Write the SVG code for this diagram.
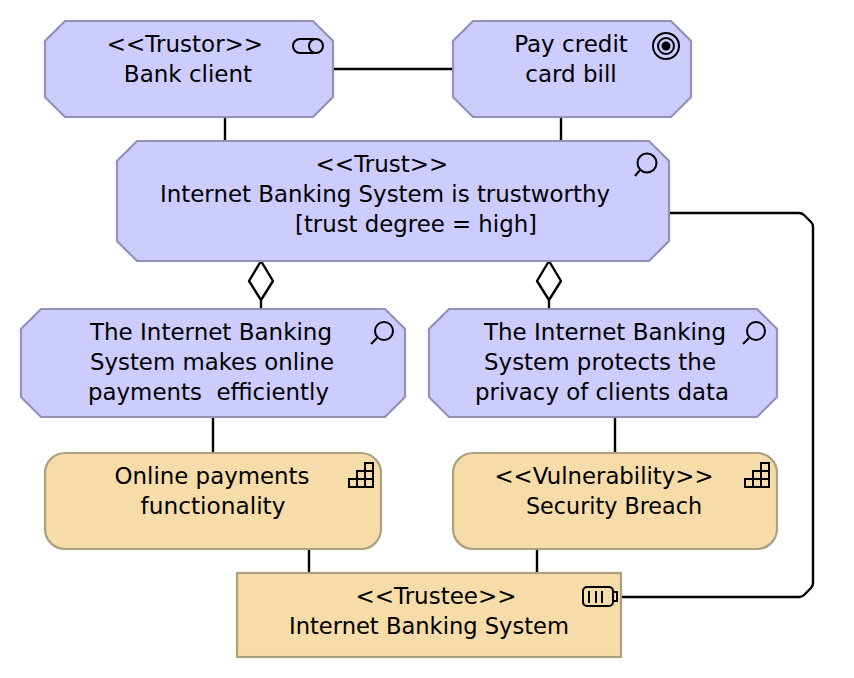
<svg xmlns="http://www.w3.org/2000/svg" width="854" height="678" viewBox="0 0 854 678">
<style>
.m{fill:#ccccff;stroke:#9292b8;stroke-width:2.2}
.y{fill:#f5dca8;stroke:#ada07e;stroke-width:2.2}
.c{fill:none;stroke:#000;stroke-width:2.4;stroke-linejoin:round}
.i{fill:none;stroke:#000;stroke-width:2}
.t{font-family:"DejaVu Sans",sans-serif;font-size:23px;fill:#000;text-anchor:middle}
</style>
<rect width="854" height="678" fill="#fff"/>
<g id="connectors">
<path class="c" d="M333 69H453"/>
<path class="c" d="M225 117V141"/>
<path class="c" d="M561 117V141"/>
<path class="c" d="M669 213H799Q802 213 804 215L811 222Q813 224 813 227V583Q813 586 811 588L804 595Q802 597 799 597H621"/>
<path class="c" d="M261 261L273 281L261 300L249 281ZM261 300V309"/>
<path class="c" d="M549 261L561 281L549 300L537 281ZM549 300V309"/>
<path class="c" d="M213 417V453"/>
<path class="c" d="M615 417V453"/>
<path class="c" d="M309 549V573"/>
<path class="c" d="M537 549V573"/>
</g>
<g id="trustor">
<path class="m" d="M65 21H313L333 41V97L313 117H65L45 97V41Z"/>
<text class="t" x="185" y="52">&lt;&lt;Trustor&gt;&gt;</text>
<text class="t" x="188" y="82">Bank client</text>
<path class="i" d="M300 39H316M300 53H316M300 39A7 7 0 0 0 300 53"/>
<circle class="i" cx="316" cy="46" r="7"/>
</g>
<g id="goal">
<path class="m" d="M473 21H671L691 41V97L671 117H473L453 97V41Z"/>
<text class="t" x="571" y="52">Pay credit</text>
<text class="t" x="571" y="82">card bill</text>
<circle class="i" cx="666" cy="46" r="13"/>
<circle class="i" cx="666" cy="46" r="8"/>
<circle cx="666" cy="46" r="4.500" fill="#000"/>
</g>
<g id="trust">
<path class="m" d="M137 141H649L669 161V241L649 261H137L117 241V161Z"/>
<text class="t" x="382" y="172">&lt;&lt;Trust&gt;&gt;</text>
<text class="t" x="385" y="202" textLength="450" lengthAdjust="spacingAndGlyphs">Internet Banking System is trustworthy</text>
<text class="t" x="416" y="232" textLength="242" lengthAdjust="spacingAndGlyphs">[trust degree = high]</text>
<circle class="i" cx="647" cy="163" r="9.500"/>
<path class="i" d="M640 170L635 176"/>
</g>
<g id="efficient">
<path class="m" d="M41 309H385L405 329V397L385 417H41L21 397V329Z"/>
<text class="t" x="211" y="340" textLength="242" lengthAdjust="spacingAndGlyphs">The Internet Banking</text>
<text class="t" x="212" y="370" textLength="244" lengthAdjust="spacingAndGlyphs">System makes online</text>
<text class="t" x="208.500" y="400" textLength="241" lengthAdjust="spacingAndGlyphs" xml:space="preserve">payments  efficiently</text>
<circle class="i" cx="384" cy="331" r="9"/>
<path class="i" d="M377 338L371 344"/>
</g>
<g id="privacy">
<path class="m" d="M449 309H757L777 329V397L757 417H449L429 397V329Z"/>
<text class="t" x="605" y="340" textLength="242" lengthAdjust="spacingAndGlyphs">The Internet Banking</text>
<text class="t" x="600" y="370" textLength="232" lengthAdjust="spacingAndGlyphs">System protects the</text>
<text class="t" x="602" y="400" textLength="254" lengthAdjust="spacingAndGlyphs">privacy of clients data</text>
<circle class="i" cx="756" cy="331" r="9"/>
<path class="i" d="M749 338L743 344"/>
</g>
<g id="functionality">
<rect class="y" x="45" y="453" width="336" height="96" rx="20" ry="20"/>
<text class="t" x="212" y="484" textLength="195" lengthAdjust="spacingAndGlyphs">Online payments</text>
<text class="t" x="213" y="514" textLength="145" lengthAdjust="spacingAndGlyphs">functionality</text>
<path class="i" d="M349 487H373V463H365V471H357V479H349ZM357 479H373M365 471H373M357 479V487M365 471V487"/>
</g>
<g id="vulnerability">
<rect class="y" x="453" y="453" width="324" height="96" rx="20" ry="20"/>
<text class="t" x="604" y="484" textLength="219" lengthAdjust="spacingAndGlyphs">&lt;&lt;Vulnerability&gt;&gt;</text>
<text class="t" x="614" y="514" textLength="176" lengthAdjust="spacingAndGlyphs">Security Breach</text>
<path class="i" d="M745 487H769V463H761V471H753V479H745ZM753 479H769M761 471H769M753 479V487M761 471V487"/>
</g>
<g id="trustee">
<rect class="y" x="237" y="573" width="384" height="84"/>
<text class="t" x="436" y="604">&lt;&lt;Trustee&gt;&gt;</text>
<text class="t" x="429" y="634" textLength="280" lengthAdjust="spacingAndGlyphs">Internet Banking System</text>
<rect class="i" x="583" y="587" width="30" height="19" rx="4" ry="4"/>
<path class="i" d="M613 592H617V601H613M589 591V603M596 591V603M602 591V603"/>
</g>
</svg>
